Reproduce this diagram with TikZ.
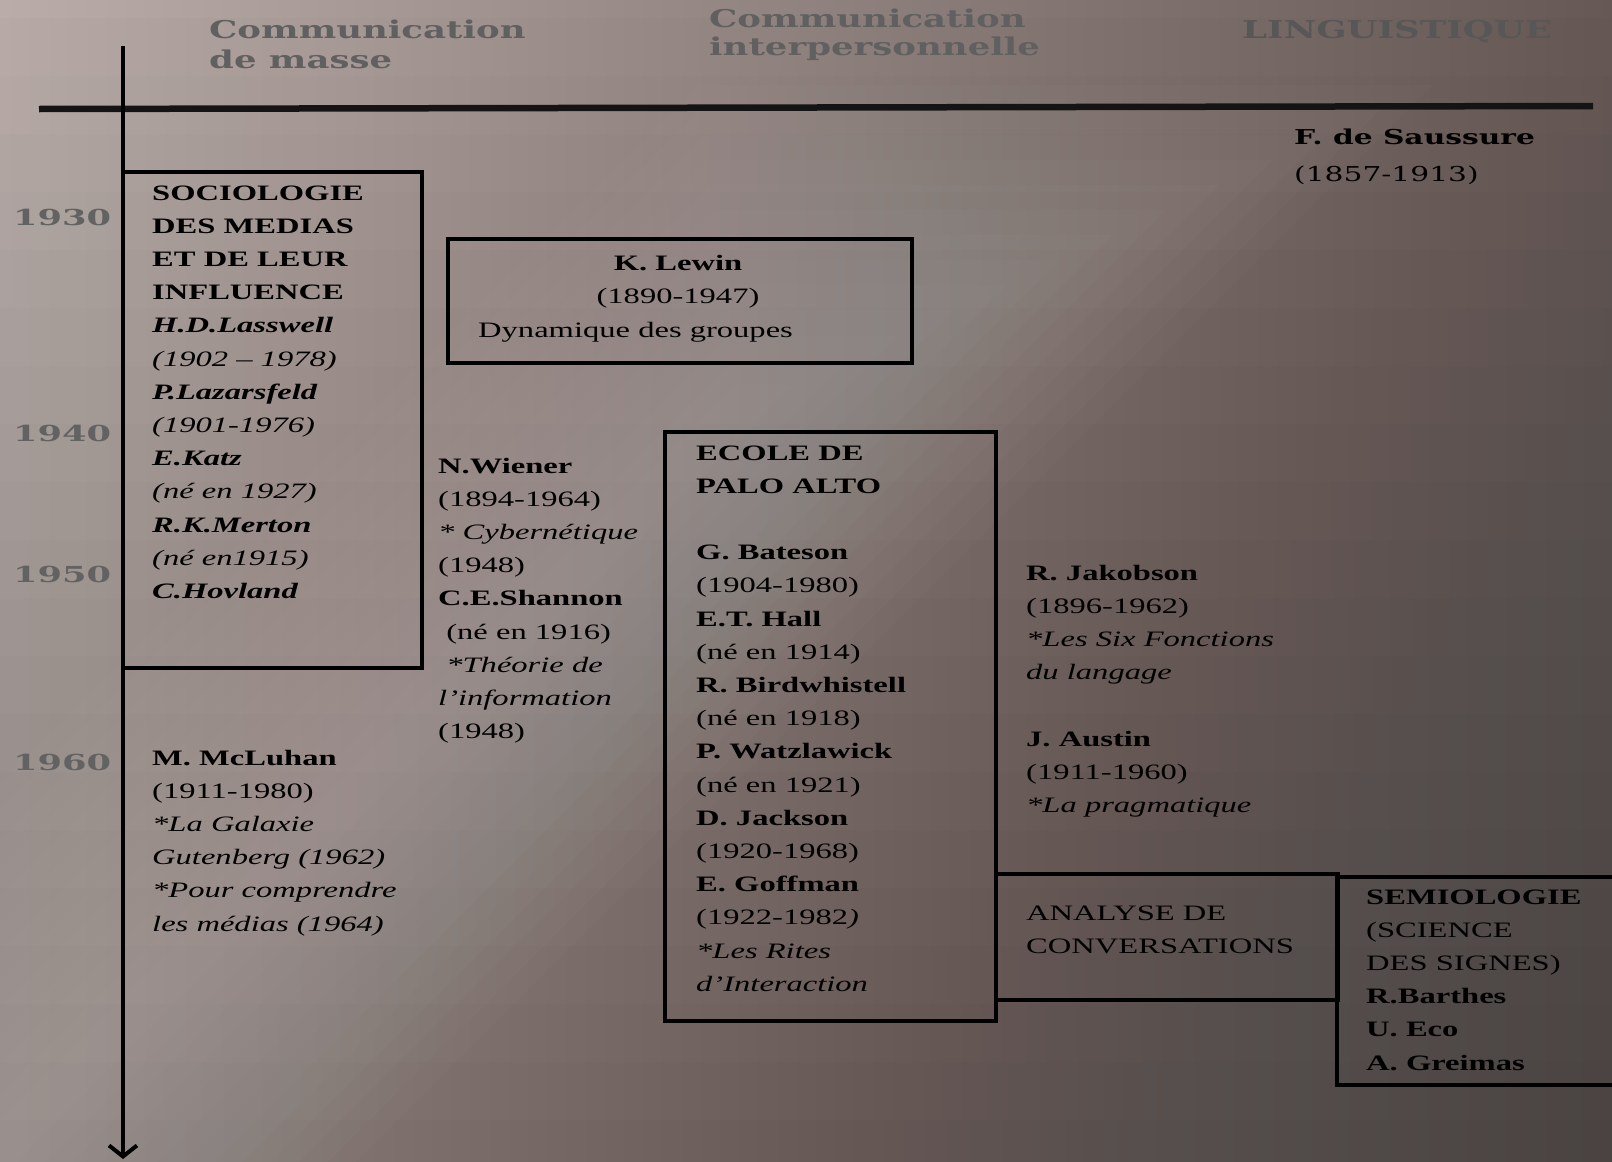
\documentclass[tikz,border=0pt]{standalone}
\usepackage{fontspec}
\setmainfont{Liberation Serif}[FakeStretch=1.48]
\newfontfamily\hdrfont{DejaVu Serif}[FakeStretch=1.45]
\newfontfamily\yrfont{DejaVu Serif}[FakeStretch=1.6]
\usetikzlibrary{arrows.meta}
\definecolor{bgL}{RGB}{186,172,168}
\definecolor{bgR}{RGB}{102,89,85}
\definecolor{hdrgray}{RGB}{96,96,96}
\definecolor{yrgray}{RGB}{98,98,98}
\newcommand\blines[1]{\begin{tabular}[t]{@{}l@{}}#1\end{tabular}}
\tikzset{
  frame/.style={draw=black, line width=4pt, inner sep=0pt, anchor=north west},
  txt/.style={anchor=base west, inner sep=0pt, font=\fontsize{22}{33.2}\selectfont},
  hdr/.style={anchor=base west, inner sep=0pt, text=hdrgray, font=\hdrfont\bfseries\fontsize{24.5}{30}\selectfont},
  hdrb/.style={anchor=base west, inner sep=0pt, text=hdrgray, font=\hdrfont\bfseries\fontsize{24.5}{28}\selectfont},
  yr/.style={anchor=base west, inner sep=0pt, text=yrgray, font=\yrfont\bfseries\fontsize{22}{26}\selectfont},
  sau/.style={anchor=base west, inner sep=0pt, text=black, font=\hdrfont\fontsize{20.5}{34}\selectfont},
  axisline/.style={line width=4pt, draw=black}
}
\begin{document}
\begin{tikzpicture}[x=1pt,y=-1pt]
\useasboundingbox (0,0) rectangle (1612,1162);
\begin{scope}
\clip (0,0) rectangle (1612,1162);
% background
\shade[left color=bgL, right color=bgR] (0,0) rectangle (1612,1162);
\foreach \i in {1,...,20} {
  \fill[black, opacity=0.011] (-10,\i*58-40) rectangle (1622,1172);
}
\foreach \w [count=\k] in {260,240,...,20} {
  \pgfmathsetmacro\ca{1150-\w*1.414}
  \pgfmathsetmacro\cb{1150+\w*1.414}
  \pgfmathsetmacro\yt{60+\k*25}
  \fill[white, opacity=0.017] (\ca-\yt,\yt) -- (\cb-\yt,\yt) -- (\cb-1250,1250) -- (\ca-1250,1250) -- cycle;
}

% axes
\coordinate (vtop) at (123,46);
\coordinate (vbot) at (123,1159);
\coordinate (hl) at (39,109);
\coordinate (hr) at (1593,106);
\draw[line width=6.5pt, draw=black!92] (hl) -- (hr);
\draw[axisline, -{Straight Barb[length=11pt,width=28pt,line width=4pt]}] (vtop) -- (vbot);

% boxes
\node[frame, minimum width=299pt, minimum height=496pt] (socbox) at (121,170) {};
\node[frame, minimum width=464pt, minimum height=124pt] (lewbox) at (446,237) {};
\node[frame, minimum width=331pt, minimum height=589pt] (palbox) at (663,430) {};
\node[frame, minimum width=342pt, minimum height=126pt] (anabox) at (994,872) {};
\node[frame, minimum width=300pt, minimum height=208pt] (sembox) at (1335,875) {};

% headers
\node[hdr] (h1) at (209,38) {\begin{tabular}[t]{@{}l@{}}Communication\\de masse\end{tabular}};
\node[hdrb] (h2) at (709,27) {\begin{tabular}[t]{@{}l@{}}Communication\\interpersonnelle\end{tabular}};
\node[hdr, text=black!66] (h3) at (1242,38) {LINGUISTIQUE};

% years
\node[yr] (y1930) at (13,225) {1930};
\node[yr] (y1940) at (13,441) {1940};
\node[yr] (y1950) at (13,582) {1950};
\node[yr] (y1960) at (13,770) {1960};

% Saussure
\node[sau] (sau1) at (1294,144) {\textbf{F. de Saussure}};
\node[sau] (sau2) at (1294,181) {(1857-1913)};

% sociologie
\node[txt] (soc) at (152,200) {\blines{%
\textbf{SOCIOLOGIE}\\
\textbf{DES MEDIAS}\\
\textbf{ET DE LEUR}\\
\textbf{INFLUENCE}\\
\textbf{\textit{H.D.Lasswell}}\\
\textit{(1902 – 1978)}\\
\textbf{\textit{P.Lazarsfeld}}\\
\textit{(1901-1976)}\\
\textbf{\textit{E.Katz}}\\
\textit{(né en 1927)}\\
\textbf{\textit{R.K.Merton}}\\
\textit{(né en1915)}\\
\textbf{\textit{C.Hovland}}}};

% Lewin
\node[txt, anchor=base] (lew1) at (678,270) {\textbf{K. Lewin}};
\node[txt, anchor=base] (lew2) at (678,303) {(1890-1947)};
\node[txt] (lew3) at (478,337) {Dynamique des groupes};

% Wiener / Shannon
\node[txt] (wie) at (438,473) {\blines{%
\textbf{N.Wiener}\\
(1894-1964)\\
\textit{* Cybernétique}\\
(1948)\\
\textbf{C.E.Shannon}\\
\ (né en 1916)\\
\ \textit{*Théorie de}\\
\textit{l’information}\\
(1948)}};

% Palo Alto
\node[txt] (pal) at (696,460) {\blines{%
\textbf{ECOLE DE}\\
\textbf{PALO ALTO}\\
\\
\textbf{G. Bateson}\\
(1904-1980)\\
\textbf{E.T. Hall}\\
(né en 1914)\\
\textbf{R. Birdwhistell}\\
(né en 1918)\\
\textbf{P. Watzlawick}\\
(né en 1921)\\
\textbf{D. Jackson}\\
(1920-1968)\\
\textbf{E. Goffman}\\
(1922-1982\textit{)}\\
\textit{*Les Rites}\\
\textit{d’Interaction}}};

% Jakobson / Austin
\node[txt] (jak) at (1026,580) {\blines{%
\textbf{R. Jakobson}\\
(1896-1962)\\
\textit{*Les Six Fonctions}\\
\textit{du langage}\\
\\
\textbf{J. Austin}\\
(1911-1960)\\
\textit{*La pragmatique}}};

% Analyse
\node[txt] (ana) at (1026,920) {\blines{ANALYSE DE\\CONVERSATIONS}};

% Semiologie
\node[txt] (sem) at (1366,904) {\blines{%
\textbf{SEMIOLOGIE}\\
(SCIENCE\\
DES SIGNES)\\
\textbf{R.Barthes}\\
\textbf{U. Eco}\\
\textbf{A. Greimas}}};

% McLuhan
\node[txt] (mcl) at (152,765) {\blines{%
\textbf{M. McLuhan}\\
(1911-1980)\\
\textit{*La Galaxie}\\
\textit{Gutenberg (1962)}\\
\textit{*Pour comprendre}\\
\textit{les médias (1964)}}};
\end{scope}
\end{tikzpicture}
\end{document}
